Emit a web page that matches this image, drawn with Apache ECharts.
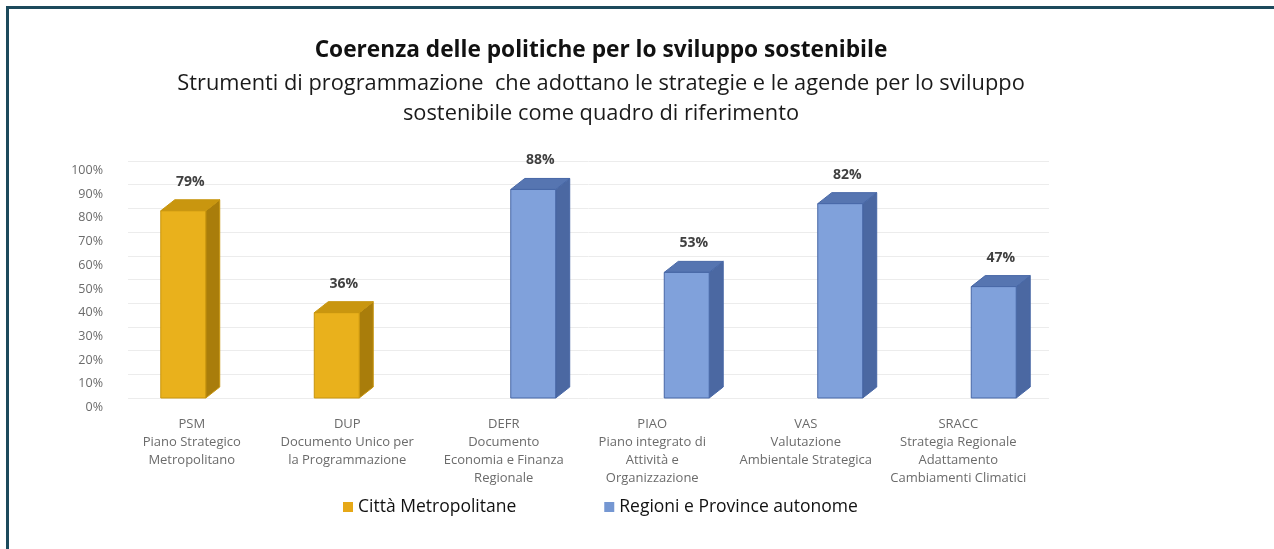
<!DOCTYPE html>
<html>
<head>
<meta charset="utf-8">
<script src="https://cdn.jsdelivr.net/npm/echarts@6/dist/echarts.min.js"></script>
<style>
  html, body { margin: 0; padding: 0; background: #fff; }
  #wrap { position: relative; width: 1274px; height: 549px; overflow: hidden; }
  #chart { position: absolute; left: 0; top: 0; width: 1274px; height: 549px; }
  #frame { position: absolute; left: 6px; top: 6px; right: -10px; bottom: -10px;
           border-left: 3px solid #1c4a5c; border-top: 3px solid #1c4a5c; pointer-events: none; }
</style>
</head>
<body>
<div id="wrap">
  <div id="chart"></div>
  <div id="frame"></div>
</div>
<script>
// dati
const categories = [
  'PSM\nPiano Strategico\nMetropolitano',
  'DUP\nDocumento Unico per\nla Programmazione',
  'DEFR\nDocumento\nEconomia e Finanza\nRegionale',
  'PIAO\nPiano integrato di\nAttività e\nOrganizzazione',
  'VAS\nValutazione\nAmbientale Strategica',
  'SRACC\nStrategia Regionale\nAdattamento\nCambiamenti Climatici'
];
const seriesNames = ['Città Metropolitane', 'Regioni e Province autonome'];
const cittaValues = [[0, 79], [1, 36]];
const regioniValues = [[2, 88], [3, 53], [4, 82], [5, 47]];
const yTicks = [0, 10, 20, 30, 40, 50, 60, 70, 80, 90, 100];

// spostamento a sinistra delle etichette asse x (layout)
const labelShift = [13, 11, 8, 13, 13, 14];

const font = '"Open Sans"';

function bar3d(slot, cFront, cTop, cSide, cEdge) {
  return function (params, api) {
    const idx = api.value(0);
    const val = api.value(1);
    const base = api.coord([idx, 0]);
    const top = api.coord([idx, val]);
    const band = api.size([1, 0])[0];
    const w = band * 0.293;
    const cx = base[0] + slot * band * 0.14;
    const x0 = cx - w / 2, x1 = cx + w / 2;
    const dx = 14, dy = 11;
    const y0 = base[1], y1 = top[1];
    return {
      type: 'group',
      children: [
        { type: 'polygon', shape: { points: [[x1, y0], [x1 + dx, y0 - dy], [x1 + dx, y1 - dy], [x1, y1]] },
          style: { fill: cSide, stroke: cEdge, lineWidth: 1 } },
        { type: 'polygon', shape: { points: [[x0, y1], [x0 + dx, y1 - dy], [x1 + dx, y1 - dy], [x1, y1]] },
          style: { fill: cTop, stroke: cEdge, lineWidth: 1 } },
        { type: 'rect', shape: { x: x0, y: y1, width: w, height: y0 - y1 },
          style: { fill: cFront, stroke: cEdge, lineWidth: 1 } },
        { type: 'text', x: cx + dx / 2, y: y1 - dy - 11,
          style: { text: val + '%', fontFamily: font, fontSize: 14, fontWeight: 'bold',
                   fill: '#404040', align: 'center', verticalAlign: 'bottom' } }
      ]
    };
  };
}

const rich = {};
labelShift.forEach(function (s, i) {
  rich['s' + i] = { fontFamily: font, fontSize: 13, color: '#6b6b6b', lineHeight: 18,
                    padding: [0, 2 * s, 0, 0] };
});

let myChart = echarts.init(document.getElementById('chart'));
let option = {
  animation: false,
  title: {
    text: 'Coerenza delle politiche per lo sviluppo sostenibile',
    subtext: 'Strumenti di programmazione  che adottano le strategie e le agende per lo sviluppo\nsostenibile come quadro di riferimento',
    left: 596,
    top: 34,
    textAlign: 'center',
    itemGap: 7,
    textStyle: { fontFamily: font, fontSize: 22.7, fontWeight: 'bold', color: '#111' },
    subtextStyle: { fontFamily: font, fontSize: 21.8, color: '#1a1a1a', lineHeight: 30 }
  },
  legend: {
    data: seriesNames.map(function (n) { return { name: n, icon: 'rect' }; }),
    left: 343,
    top: 498,
    padding: 0,
    itemWidth: 10,
    itemHeight: 10,
    itemGap: 88,
    textStyle: { fontFamily: font, fontSize: 17.5, color: '#111' }
  },
  grid: { left: 128, right: 225, top: 161, bottom: 151 },
  xAxis: {
    type: 'category',
    data: categories,
    axisLine: { show: false },
    axisTick: { show: false },
    axisLabel: {
      interval: 0,
      margin: 17,
      formatter: function (v, i) {
        return v.split('\n').map(function (l) { return '{s' + i + '|' + l + '}'; }).join('\n');
      },
      rich: rich
    }
  },
  yAxis: {
    type: 'value',
    min: yTicks[0],
    max: yTicks[yTicks.length - 1],
    interval: 10,
    axisLine: { show: false },
    axisTick: { show: false },
    splitLine: { lineStyle: { color: '#ececec' } },
    axisLabel: {
      formatter: '{value}%',
      fontFamily: font,
      fontSize: 12.5,
      color: '#6b6b6b',
      margin: 25,
      verticalAlign: 'top',
      padding: [3, 0, 0, 0]
    }
  },
  series: [
    {
      name: seriesNames[0],
      type: 'custom',
      itemStyle: { color: '#e6a817' },
      renderItem: bar3d(-1, '#e9b11c', '#c9960f', '#a97d0b', '#c8950e'),
      encode: { x: 0, y: 1 },
      data: cittaValues
    },
    {
      name: seriesNames[1],
      type: 'custom',
      itemStyle: { color: '#7597d2' },
      renderItem: bar3d(1, '#80a1db', '#5675b1', '#4b68a2', '#4767a6'),
      encode: { x: 0, y: 1 },
      data: regioniValues
    }
  ]
};
myChart.setOption(option);
</script>
</body>
</html>
